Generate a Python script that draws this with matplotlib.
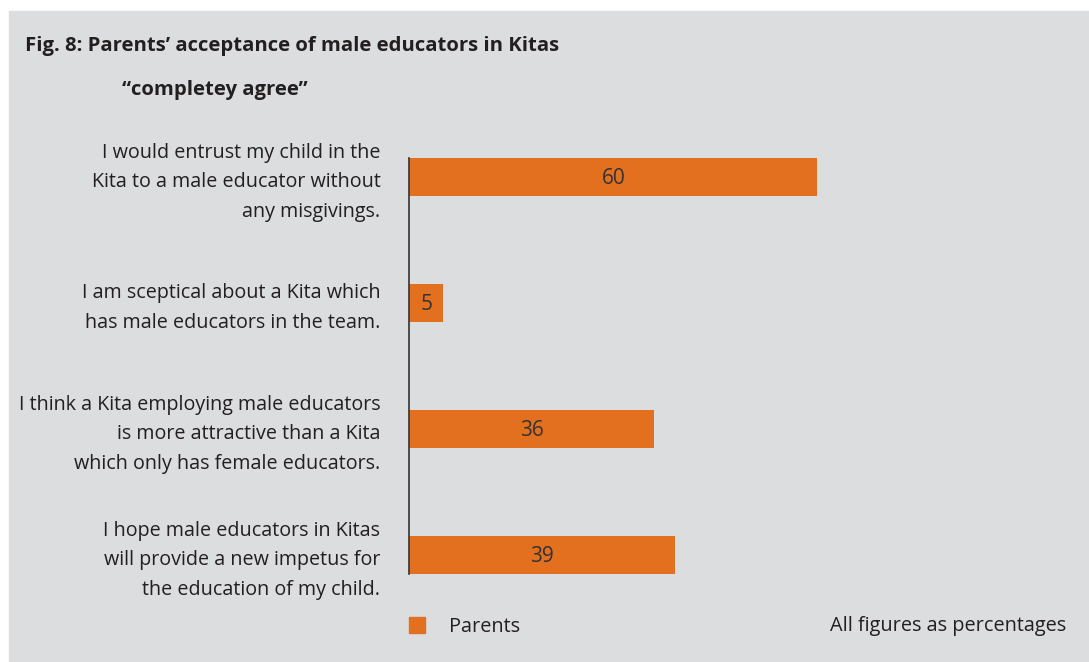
import matplotlib.pyplot as plt
from matplotlib.transforms import ScaledTranslation

# data
statements = [
    "I would entrust my child in the\nKita to a male educator without\nany misgivings.",
    "I am sceptical about a Kita which\nhas male educators in the team.",
    "I think a Kita employing male educators\nis more attractive than a Kita\nwhich only has female educators.",
    "I hope male educators in Kitas\nwill provide a new impetus for\nthe education of my child.",
]
parents = [60, 5, 36, 39]

bg = "#dcdddf"
orange = "#e2701e"
txt = "#231f20"

plt.rcParams['font.family'] = ['Open Sans', 'DejaVu Sans']

fig = plt.figure(figsize=(10.89, 6.62), dpi=100)
fig.patch.set_facecolor("white")
# grey panel
fig.patches.append(plt.Rectangle((9/1089, 0), 1 - 9/1089, 1 - 11/662,
                                 transform=fig.transFigure, color=bg, zorder=-5))

ax = fig.add_axes([409.3/1089, 88/662, 680/1089, 416/662])
ax.set_facecolor("none")
pos = list(range(len(parents)))
bars = ax.barh(pos, parents, height=0.3, color=orange)
ax.set_ylim(3.15, -0.15)
ax.set_xlim(0, 100)

for b, v in zip(bars, parents):
    ax.text(b.get_x() + b.get_width()/2, b.get_y() + b.get_height()/2 + 0.01, str(v),
            ha="center", va="center", fontsize=15, color="#333333")

ax.set_yticks(pos)
ax.set_yticklabels(statements, fontsize=14.2, color=txt, linespacing=1.64,
                   multialignment="right")
ax.tick_params(axis="y", length=0, pad=20.8)
# nudge labels up a little
for lab in ax.get_yticklabels():
    lab.set_transform(lab.get_transform() + ScaledTranslation(0, 2/100, fig.dpi_scale_trans))
ax.set_xticks([])
for s in ["top", "right", "bottom"]:
    ax.spines[s].set_visible(False)
ax.spines["left"].set_color("#333333")
ax.spines["left"].set_linewidth(1.2)

fig.text(25/1089, 1 - 45.5/662, "Fig. 8: Parents’ acceptance of male educators in Kitas",
         fontsize=14.6, fontweight="bold", color=txt, va="center", ha="left")
fig.text(215/1089, 1 - 90.5/662, "“completey agree”",
         fontsize=14.6, fontweight="bold", color=txt, va="center", ha="center")

# legend
fig.patches.append(plt.Rectangle((409/1089, 1 - 633/662), 16/1089, 16/662,
                                 transform=fig.transFigure, color=orange))
fig.text(449/1089, 1 - 626.5/662, "Parents", fontsize=14.3, color=txt,
         va="center", ha="left")
fig.text(1066/1089, 1 - 626.5/662, "All figures as percentages", fontsize=14.3,
         color=txt, va="center", ha="right")

fig.savefig("out.png", dpi=100, facecolor=fig.get_facecolor())
